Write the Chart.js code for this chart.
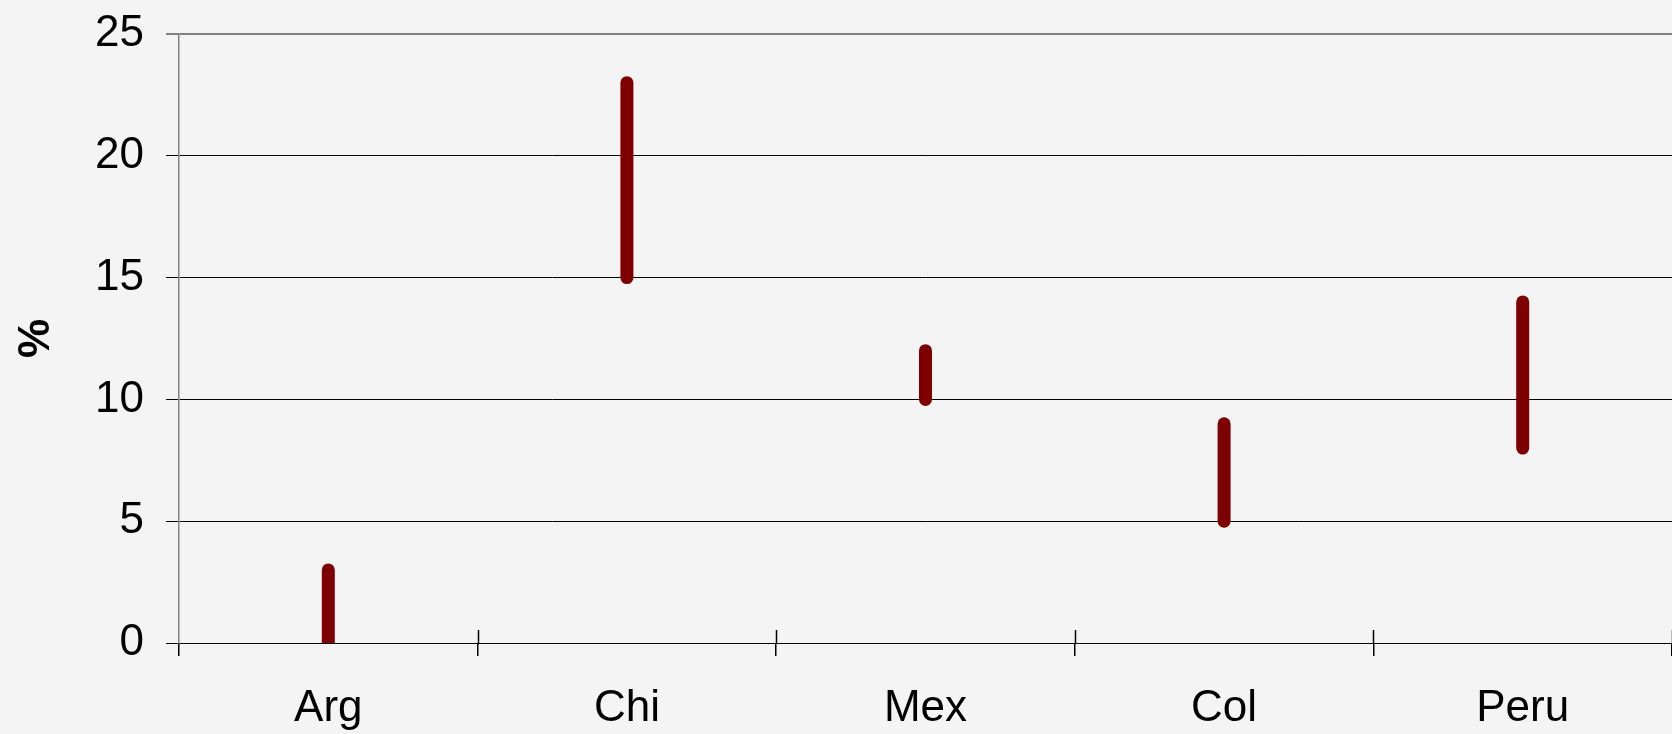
<!DOCTYPE html>
<html>
<head>
<meta charset="utf-8">
<script src="https://cdn.jsdelivr.net/npm/chart.js@4"></script>
<style>
  html, body { margin: 0; padding: 0; background: #f4f4f4; }
  #wrap { width: 1672px; height: 734px; }
</style>
</head>
<body>
<div id="wrap"><canvas id="rangeChart"></canvas></div>
<script>
const countries = ['Arg', 'Chi', 'Mex', 'Col', 'Peru'];
const lows  = [0, 15, 10, 5, 8];
const highs = [3, 23, 12, 9, 14];
const yTicks = [0, 5, 10, 15, 20, 25];

const BAR = '#7f0000';
const font = { family: '"Liberation Sans", Arial, sans-serif', size: 44 };

// one short thick segment per country, low -> high
const datasets = countries.map((c, i) => ({
  data: [{ x: c, y: lows[i] }, { x: c, y: highs[i] }],
  borderColor: BAR,
  borderWidth: 13,
  borderCapStyle: 'round',
  pointRadius: 0,
  clip: 0,
}));

// category separators also poke up above the zero line, like the old Excel axis
const crossTicks = {
  id: 'crossTicks',
  afterDraw(chart) {
    const x = chart.scales.x, ctx = chart.ctx;
    const step = (x.right - x.left) / countries.length;
    ctx.save();
    ctx.strokeStyle = '#000';
    ctx.lineWidth = 1.5;
    ctx.beginPath();
    for (let i = 1; i <= countries.length; i++) {
      const px = Math.round(x.left + i * step) + 0.5;
      ctx.moveTo(px, x.top - 13);
      ctx.lineTo(px, x.top);
    }
    ctx.stroke();
    ctx.restore();
  },
};

new Chart(document.getElementById('rangeChart'), {
  type: 'line',
  data: { labels: countries, datasets },
  plugins: [crossTicks],
  options: {
    responsive: true,
    maintainAspectRatio: false,
    animation: false,
    layout: { padding: { top: 34, right: 0, left: 0, bottom: 0 } },
    plugins: { legend: { display: false }, tooltip: { enabled: false } },
    scales: {
      x: {
        type: 'category',
        offset: true,
        afterFit: s => { s.height = 91; },
        grid: { drawOnChartArea: false, drawTicks: true, tickLength: 13, color: '#000', lineWidth: 1.5, offset: true },
        border: { color: '#000', width: 1 },
        ticks: { color: '#000', font, padding: 26, maxRotation: 0 },
      },
      y: {
        min: 0,
        max: 25,
        afterFit: s => { s.width = 179; s.paddingTop = 0; s.paddingBottom = 0; },
        afterBuildTicks: s => { s.ticks = yTicks.map(v => ({ value: v })); },
        grid: {
          color: ctx => ctx.tick && ctx.tick.value === 25 ? '#808080' : '#000',
          lineWidth: ctx => ctx.tick && ctx.tick.value === 25 ? 2 : 1,
          tickLength: 13,
        },
        border: { color: '#808080', width: 1.5 },
        ticks: { color: '#000', font, padding: 22 },
        title: {
          display: true,
          text: '%',
          color: '#000',
          font: { family: font.family, size: 44, weight: 'bold' },
          padding: { top: 10, bottom: 0 },
        },
      },
    },
  },
});
</script>
</body>
</html>
